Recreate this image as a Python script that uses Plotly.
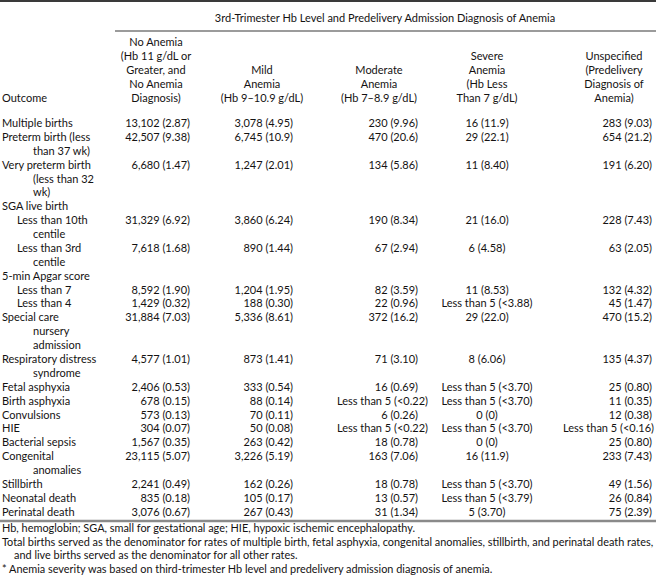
import plotly.graph_objects as go

# table content
outcome_lines = [
    ["Multiple births"],
    ["Preterm birth (less", "than 37 wk)"],
    ["Very preterm birth", "(less than 32", "wk)"],
    ["SGA live birth"],
    ["Less than 10th", "centile"],
    ["Less than 3rd", "centile"],
    ["5-min Apgar score"],
    ["Less than 7"],
    ["Less than 4"],
    ["Special care", "nursery", "admission"],
    ["Respiratory distress", "syndrome"],
    ["Fetal asphyxia"],
    ["Birth asphyxia"],
    ["Convulsions"],
    ["HIE"],
    ["Bacterial sepsis"],
    ["Congenital", "anomalies"],
    ["Stillbirth"],
    ["Neonatal death"],
    ["Perinatal death"],
]
outcome_level = [0, 0, 0, 0, 1, 1, 0, 1, 1, 0, 0, 0, 0, 0, 0, 0, 0, 0, 0, 0]

no_anemia = ["13,102 (2.87)", "42,507 (9.38)", "6,680 (1.47)", "", "31,329 (6.92)",
             "7,618 (1.68)", "", "8,592 (1.90)", "1,429 (0.32)", "31,884 (7.03)",
             "4,577 (1.01)", "2,406 (0.53)", "678 (0.15)", "573 (0.13)", "304 (0.07)",
             "1,567 (0.35)", "23,115 (5.07)", "2,241 (0.49)", "835 (0.18)", "3,076 (0.67)"]
mild = ["3,078 (4.95)", "6,745 (10.9)", "1,247 (2.01)", "", "3,860 (6.24)",
        "890 (1.44)", "", "1,204 (1.95)", "188 (0.30)", "5,336 (8.61)",
        "873 (1.41)", "333 (0.54)", "88 (0.14)", "70 (0.11)", "50 (0.08)",
        "263 (0.42)", "3,226 (5.19)", "162 (0.26)", "105 (0.17)", "267 (0.43)"]
moderate = ["230 (9.96)", "470 (20.6)", "134 (5.86)", "", "190 (8.34)",
            "67 (2.94)", "", "82 (3.59)", "22 (0.96)", "372 (16.2)",
            "71 (3.10)", "16 (0.69)", "Less than 5 (<0.22)", "6 (0.26)", "Less than 5 (<0.22)",
            "18 (0.78)", "163 (7.06)", "18 (0.78)", "13 (0.57)", "31 (1.34)"]
severe = ["16 (11.9)", "29 (22.1)", "11 (8.40)", "", "21 (16.0)",
          "6 (4.58)", "", "11 (8.53)", "Less than 5 (<3.88)", "29 (22.0)",
          "8 (6.06)", "Less than 5 (<3.70)", "Less than 5 (<3.70)", "0 (0)", "Less than 5 (<3.70)",
          "0 (0)", "16 (11.9)", "Less than 5 (<3.70)", "Less than 5 (<3.79)", "5 (3.70)"]
unspecified = ["283 (9.03)", "654 (21.2)", "191 (6.20)", "", "228 (7.43)",
               "63 (2.05)", "", "132 (4.32)", "45 (1.47)", "470 (15.2)",
               "135 (4.37)", "25 (0.80)", "11 (0.35)", "12 (0.38)", "Less than 5 (<0.16)",
               "25 (0.80)", "233 (7.43)", "49 (1.56)", "26 (0.84)", "75 (2.39)"]

span_title = "3rd-Trimester Hb Level and Predelivery Admission Diagnosis of Anemia"
stub_header = "Outcome"
col_headers = [
    ["No Anemia", "(Hb 11 g/dL or", "Greater, and", "No Anemia", "Diagnosis)"],
    ["Mild", "Anemia", "(Hb 9–10.9 g/dL)"],
    ["Moderate", "Anemia", "(Hb 7–8.9 g/dL)"],
    ["Severe", "Anemia", "(Hb Less", "Than 7 g/dL)"],
    ["Unspecified", "(Predelivery", "Diagnosis of", "Anemia)"],
]
footnotes = [
    ("Hb, hemoglobin; SGA, small for gestational age; HIE, hypoxic ischemic encephalopathy.", 0),
    ("Total births served as the denominator for rates of multiple birth, fetal asphyxia, congenital anomalies, stillbirth, and perinatal death rates,", 0),
    ("and live births served as the denominator for all other rates.", 1),
    ("* Anemia severity was based on third-trimester Hb level and predelivery admission diagnosis of anemia.", 0),
]

# layout settings (pixel units on a hidden axis)
W, H = 656, 576
FONT = "Lato"
FS = 11
FS_FOOT = 10.9
INK = "#141212"
LH = 13.88
body_top = 124.3
head_bottom = 99
indent = [2, 17]
wrap_indent = 33
# (anchor x, textposition, extra shift for "Less than" entries) per value column
col_anchor = [(190, "middle left", 0), (293, "middle left", 0), (418, "middle left", 10),
              (487, "middle center", 0), (652, "middle left", 2)]
head_center = [156, 262, 379, 487, 614]

esc = lambda s: s.replace("<", "&lt;")

xs, ys, ts, ps, fs = [], [], [], [], []

def put(x, y, t, p, size=FS):
    xs.append(x)
    ys.append(y)
    ts.append(esc(t))
    ps.append(p)
    fs.append(size)

# header
put(385, 19, span_title, "middle center")
put(indent[0], head_bottom, stub_header, "middle right")
for c, lines in enumerate(col_headers):
    n = len(lines)
    for k, ln in enumerate(lines):
        put(head_center[c], head_bottom - (n - 1 - k) * LH, ln, "middle center")

# body
columns = [no_anemia, mild, moderate, severe, unspecified]
line = 0
for r, lines in enumerate(outcome_lines):
    y = body_top + line * LH
    for k, ln in enumerate(lines):
        x = indent[outcome_level[r]] if k == 0 else wrap_indent
        put(x, y + k * LH, ln, "middle right")
    for c, col in enumerate(columns):
        if col[r]:
            ax, pos, shift = col_anchor[c]
            if col[r].startswith("Less than"):
                ax += shift
            put(ax, y, col[r], pos)
    line += len(lines)

last_y = body_top + (line - 1) * LH
rule_y = last_y + 8
foot_top = rule_y + 8
for i, (t, ind) in enumerate(footnotes):
    put(2 + ind * 12, foot_top + i * LH, t, "middle right", FS_FOOT)

fig = go.Figure(go.Scatter(
    x=xs, y=ys, text=ts, mode="text", textposition=ps,
    textfont=dict(family=FONT, size=fs, color=INK),
    hoverinfo="skip", cliponaxis=False, showlegend=False,
))

# rules
fig.add_shape(type="line", x0=0, x1=W, y0=1, y1=1, line=dict(color="#3a3a3a", width=2))
fig.add_shape(type="line", x0=115, x1=W, y0=31, y1=31, line=dict(color="#7a7a7a", width=1.5))
fig.add_shape(type="line", x0=0, x1=W, y0=rule_y, y1=rule_y, line=dict(color="#8a8a8a", width=2.5))

fig.update_xaxes(range=[0, W], visible=False, fixedrange=True)
fig.update_yaxes(range=[H, 0], visible=False, fixedrange=True)
fig.update_layout(
    width=W, height=H, autosize=False,
    margin=dict(l=0, r=0, t=0, b=0),
    paper_bgcolor="white", plot_bgcolor="white",
)
fig.write_html("out.html", config={"displayModeBar": False},
               post_script="document.body.style.margin='0';document.body.style.overflow='hidden';")
